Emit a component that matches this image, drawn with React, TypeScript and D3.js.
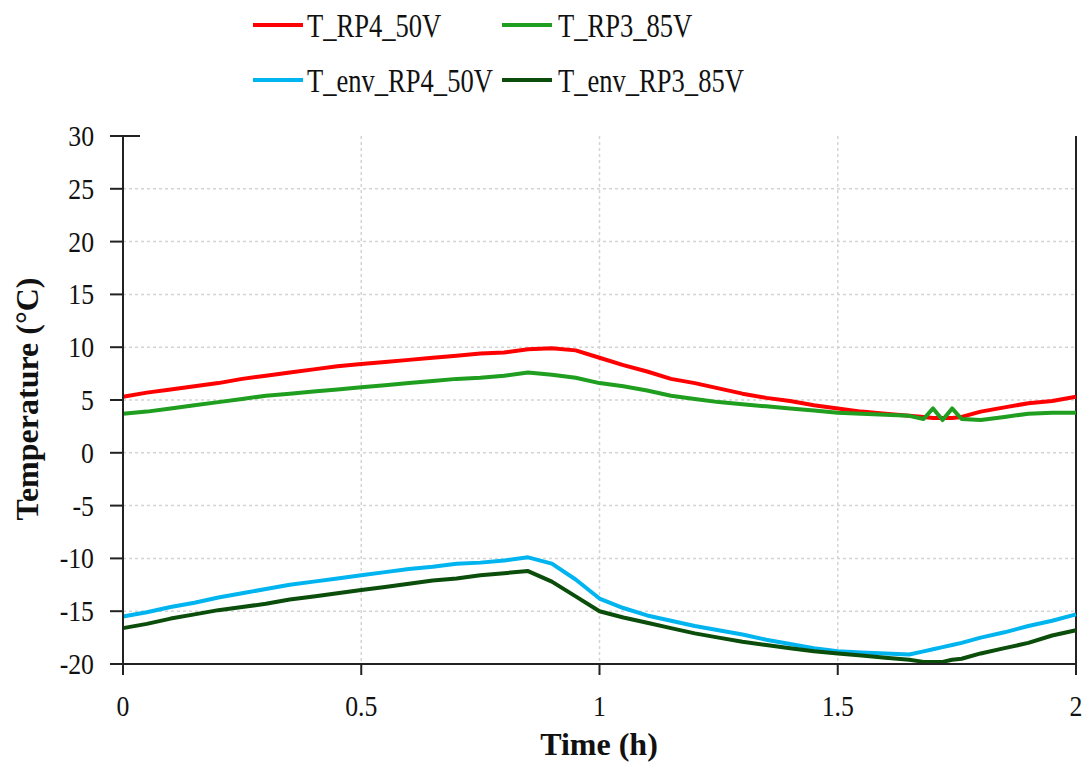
import React from "react";
import * as d3 from "d3";

const time = [0, 0.05, 0.1, 0.15, 0.2, 0.25, 0.3, 0.35, 0.4, 0.45, 0.5, 0.55, 0.6, 0.65, 0.7, 0.75, 0.8, 0.85, 0.9, 0.95, 1.0, 1.05, 1.1, 1.15, 1.2, 1.25, 1.3, 1.35, 1.4, 1.45, 1.5, 1.55, 1.6, 1.65, 1.68, 1.7, 1.72, 1.74, 1.76, 1.8, 1.85, 1.9, 1.95, 2.0];

const tRP4 = [5.3, 5.7, 6.0, 6.3, 6.6, 7.0, 7.3, 7.6, 7.9, 8.2, 8.4, 8.6, 8.8, 9.0, 9.2, 9.4, 9.5, 9.8, 9.9, 9.7, 9.0, 8.3, 7.7, 7.0, 6.6, 6.1, 5.6, 5.2, 4.9, 4.5, 4.2, 3.9, 3.7, 3.5, 3.4, 3.3, 3.3, 3.3, 3.4, 3.9, 4.3, 4.7, 4.9, 5.3];

const tRP3 = [3.7, 3.9, 4.2, 4.5, 4.8, 5.1, 5.4, 5.6, 5.8, 6.0, 6.2, 6.4, 6.6, 6.8, 7.0, 7.1, 7.3, 7.6, 7.4, 7.1, 6.6, 6.3, 5.9, 5.4, 5.1, 4.8, 4.6, 4.4, 4.2, 4.0, 3.8, 3.7, 3.6, 3.5, 3.2, 4.2, 3.1, 4.2, 3.2, 3.1, 3.4, 3.7, 3.8, 3.8];

const tEnvRP4 = [-15.5, -15.1, -14.6, -14.2, -13.7, -13.3, -12.9, -12.5, -12.2, -11.9, -11.6, -11.3, -11.0, -10.8, -10.5, -10.4, -10.2, -9.9, -10.5, -12.0, -13.8, -14.7, -15.4, -15.9, -16.4, -16.8, -17.2, -17.7, -18.1, -18.5, -18.8, -18.9, -19.0, -19.1, -18.8, -18.6, -18.4, -18.2, -18.0, -17.5, -17.0, -16.4, -15.9, -15.3];

const tEnvRP3 = [-16.6, -16.2, -15.7, -15.3, -14.9, -14.6, -14.3, -13.9, -13.6, -13.3, -13.0, -12.7, -12.4, -12.1, -11.9, -11.6, -11.4, -11.2, -12.2, -13.6, -15.0, -15.6, -16.1, -16.6, -17.1, -17.5, -17.9, -18.2, -18.5, -18.8, -19.0, -19.2, -19.4, -19.6, -19.8, -19.8, -19.8, -19.6, -19.5, -19.0, -18.5, -18.0, -17.3, -16.8];

const seriesNames = ["T_RP4_50V", "T_RP3_85V", "T_env_RP4_50V", "T_env_RP3_85V"];
const seriesColors = ["#ff0000", "#1f9e1f", "#00b4f0", "#0b4d0b"];
const seriesValues = [tRP4, tRP3, tEnvRP4, tEnvRP3];

const xTicks = [0, 0.5, 1, 1.5, 2];
const yTicks = [30, 25, 20, 15, 10, 5, 0, -5, -10, -15, -20];

const W = 1086;
const H = 765;
const left = 123;
const right = 1076;
const top = 136;
const bottom = 664;

const serif = "'Liberation Serif', 'Times New Roman', serif";

export default function App() {
  const x = d3.scaleLinear().domain([0, 2]).range([left, right]);
  const y = d3.scaleLinear().domain([-20, 30]).range([bottom, top]);
  const line = d3
    .line<[number, number]>()
    .x((d) => x(d[0]))
    .y((d) => y(d[1]));

  const legendPos = [
    { lx: 253, ly: 25, tx: 307, ty: 37 },
    { lx: 502, ly: 25, tx: 558, ty: 37 },
    { lx: 253, ly: 80, tx: 307, ty: 92 },
    { lx: 502, ly: 80, tx: 558, ty: 92 },
  ];

  return (
    <svg
      width={W}
      height={H}
      style={{ position: "absolute", left: 0, top: 0, background: "#fff" }}
    >
      <rect x={0} y={0} width={W} height={H} fill="#fff" />
      {yTicks
        .filter((t) => t !== -20 && t !== 30)
        .map((t) => (
          <line
            key={"gy" + t}
            x1={left}
            x2={right}
            y1={y(t)}
            y2={y(t)}
            stroke="#d4d4d4"
            strokeWidth={1.5}
            strokeDasharray="3,3"
          />
        ))}
      {xTicks
        .filter((t) => t !== 0 && t !== 2)
        .map((t) => (
          <line
            key={"gx" + t}
            x1={x(t)}
            x2={x(t)}
            y1={top}
            y2={bottom}
            stroke="#d4d4d4"
            strokeWidth={1.5}
            strokeDasharray="3,3"
          />
        ))}
      <line x1={right} x2={right} y1={top} y2={bottom} stroke="#222" strokeWidth={2} />

      {seriesValues.map((vals, i) => (
        <path
          key={seriesNames[i]}
          d={line(time.map((t, j) => [t, vals[j]] as [number, number])) || ""}
          fill="none"
          stroke={seriesColors[i]}
          strokeWidth={4}
          strokeLinejoin="round"
        />
      ))}

      <line x1={left} x2={left} y1={top} y2={bottom + 1} stroke="#222" strokeWidth={2} />
      <line x1={left - 1} x2={right + 1} y1={bottom} y2={bottom} stroke="#222" strokeWidth={2} />
      {yTicks.map((t) => (
        <line
          key={"ty" + t}
          x1={left - 13}
          x2={t === 30 ? left + 17 : left}
          y1={y(t)}
          y2={y(t)}
          stroke="#222"
          strokeWidth={2}
        />
      ))}
      {xTicks.map((t) => (
        <line
          key={"tx" + t}
          x1={x(t)}
          x2={x(t)}
          y1={bottom}
          y2={bottom + 11}
          stroke="#222"
          strokeWidth={2}
        />
      ))}
      {yTicks.map((t) => (
        <text
          key={"ly" + t}
          transform={`translate(94,${y(t) + 10}) scale(0.92,1.08)`}
          textAnchor="end"
          fontFamily={serif}
          fontSize={28}
          fill="#111"
        >
          {t}
        </text>
      ))}
      {xTicks.map((t) => (
        <text
          key={"lx" + t}
          transform={`translate(${x(t)},716) scale(0.92,1.08)`}
          textAnchor="middle"
          fontFamily={serif}
          fontSize={28}
          fill="#111"
        >
          {t}
        </text>
      ))}

      <text
        x={599}
        y={755}
        textAnchor="middle"
        fontFamily={serif}
        fontWeight="bold"
        fontSize={32}
        fill="#111"
      >
        Time (h)
      </text>
      <text
        transform={`translate(38,399) rotate(-90)`}
        textAnchor="middle"
        fontFamily={serif}
        fontWeight="bold"
        fontSize={32}
        fill="#111"
      >
        Temperature (°C)
      </text>

      {seriesNames.map((name, i) => {
        const p = legendPos[i];
        return (
          <g key={"leg" + name}>
            <line
              x1={p.lx}
              x2={p.lx + 50}
              y1={p.ly}
              y2={p.ly}
              stroke={seriesColors[i]}
              strokeWidth={4}
            />
            <text
              transform={`translate(${p.tx},${p.ty}) scale(0.83,1.02)`}
              fontFamily={serif}
              fontSize={32}
              fill="#111"
            >
              {name}
            </text>
          </g>
        );
      })}
    </svg>
  );
}
